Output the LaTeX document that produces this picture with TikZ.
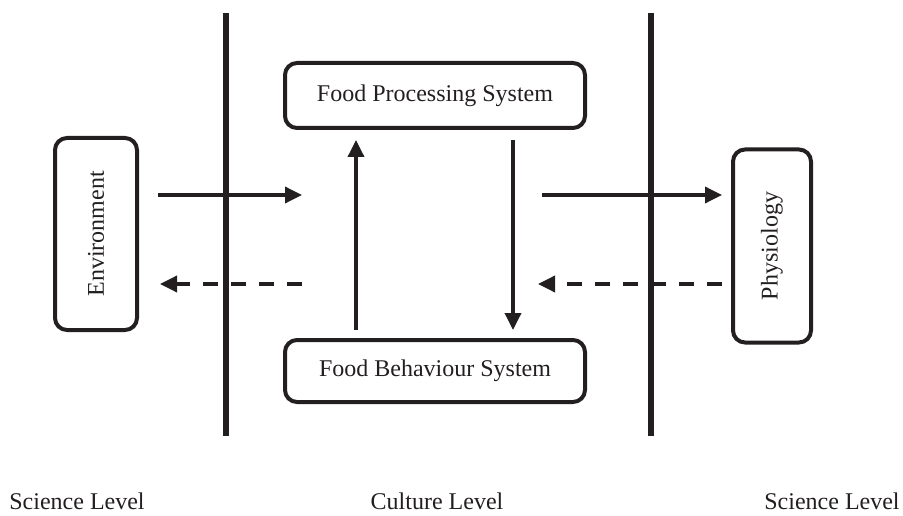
\documentclass[tikz,border=0pt]{standalone}
\usepackage{fontspec}
\setmainfont{Liberation Serif}
\usetikzlibrary{arrows.meta}
\definecolor{ink}{RGB}{35,31,32}
\begin{document}
\begin{tikzpicture}[x=1pt,y=1pt,
  box/.style={draw=ink,line width=4pt,rounded corners=12pt,inner sep=0pt,
    font=\fontsize{24}{28}\selectfont,text=ink},
  lbl/.style={font=\fontsize{24}{28}\selectfont,text=ink,anchor=base,inner sep=0pt},
  arr/.style={draw=ink,line width=3.5pt,-{Triangle[length=17pt,width=16pt]}},
  darr/.style={arr,dash pattern=on 15pt off 13pt},
  wall/.style={draw=ink,line width=5.5pt}]
\useasboundingbox (0,0) rectangle (903,-516);
% walls
\coordinate (w1t) at (226,-13);
\coordinate (w1b) at (226,-436);
\coordinate (w2t) at (651,-13);
\coordinate (w2b) at (651,-436);
\draw[wall] (w1t) -- (w1b);
\draw[wall] (w2t) -- (w2b);
% boxes
\node[box,minimum width=82pt,minimum height=192pt] (env) at (96,-234) {};
\node[text=ink,font=\fontsize{24}{28}\selectfont,rotate=90] (envt) at (env.center) {Environment};
\node[box,minimum width=78pt,minimum height=193pt] (phy) at (772,-246) {};
\node[text=ink,font=\fontsize{24}{28}\selectfont,rotate=90] (phyt) at (phy.center) {Physiology};
\node[box,minimum width=300pt,minimum height=65pt] (fps) at (435,-95.5) {Food Processing System};
\node[box,minimum width=300pt,minimum height=62pt] (fbs) at (435,-371) {Food Behaviour System};
% arrow end points
\coordinate (a1s) at (158,-195);
\coordinate (a1e) at (302,-195);
\coordinate (a2s) at (302,-284);
\coordinate (a2e) at (160,-284);
\coordinate (a3s) at (542,-195);
\coordinate (a3e) at (722,-195);
\coordinate (a4s) at (722,-284);
\coordinate (a4e) at (538,-284);
\coordinate (ups) at (356,-330);
\coordinate (upe) at (356,-140);
\coordinate (dns) at (513,-140);
\coordinate (dne) at (513,-330);
\draw[arr] (a1s) -- (a1e);
\draw[darr] (a2s) -- (a2e);
\draw[arr] (a3s) -- (a3e);
\draw[darr] (a4s) -- (a4e);
\draw[arr] (ups) -- (upe);
\draw[arr] (dns) -- (dne);
% level labels
\node[lbl] (sl1) at (77,-509) {Science Level};
\node[lbl] (cl) at (437,-509) {Culture Level};
\node[lbl] (sl2) at (832,-509) {Science Level};
\end{tikzpicture}
\end{document}
